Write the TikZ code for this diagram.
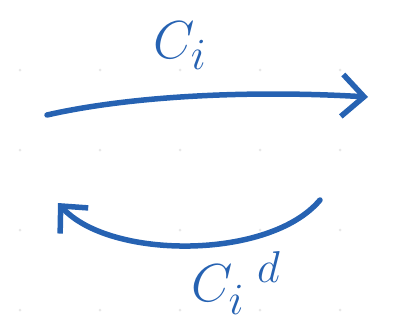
\documentclass[tikz,border=0pt]{standalone}
\usepackage{xcolor}
\usetikzlibrary{arrows.meta}
\definecolor{penblue}{RGB}{38,98,178}

\begin{document}
\begin{tikzpicture}[x=1pt,y=-1pt]
\useasboundingbox (0,0) rectangle (399,332);

% faint dots of the paper
\foreach \gx in {20,100,180,260,340}{
  \foreach \gy in {70,150,230,310}{
    \fill[color=gray!18] (\gx,\gy) circle(1.5);
  }
}

\coordinate (C1) at (47,115);
\coordinate (C2) at (368,97);
\coordinate (D1) at (320,200);
\coordinate (D2) at (58,203);

\draw[-{Straight Barb[length=22pt,width=42pt]},line width=5.5,color=penblue,line cap=round]
  (C1) .. controls (130,96) and (250,90) .. (C2);
\draw[-{Straight Barb[length=20pt,width=38pt]},line width=5.5,color=penblue,line cap=round]
  (D1) .. controls (270,260) and (110,260) .. (D2);

\node[color=penblue,font=\Huge] (ci) at (180,46) {\scalebox{2.15}{$C_i$}};
\node[color=penblue,font=\Huge] (cid) at (236,283) {\scalebox{2.15}{$C_i^{\;\;d}$}};
\end{tikzpicture}
\end{document}
